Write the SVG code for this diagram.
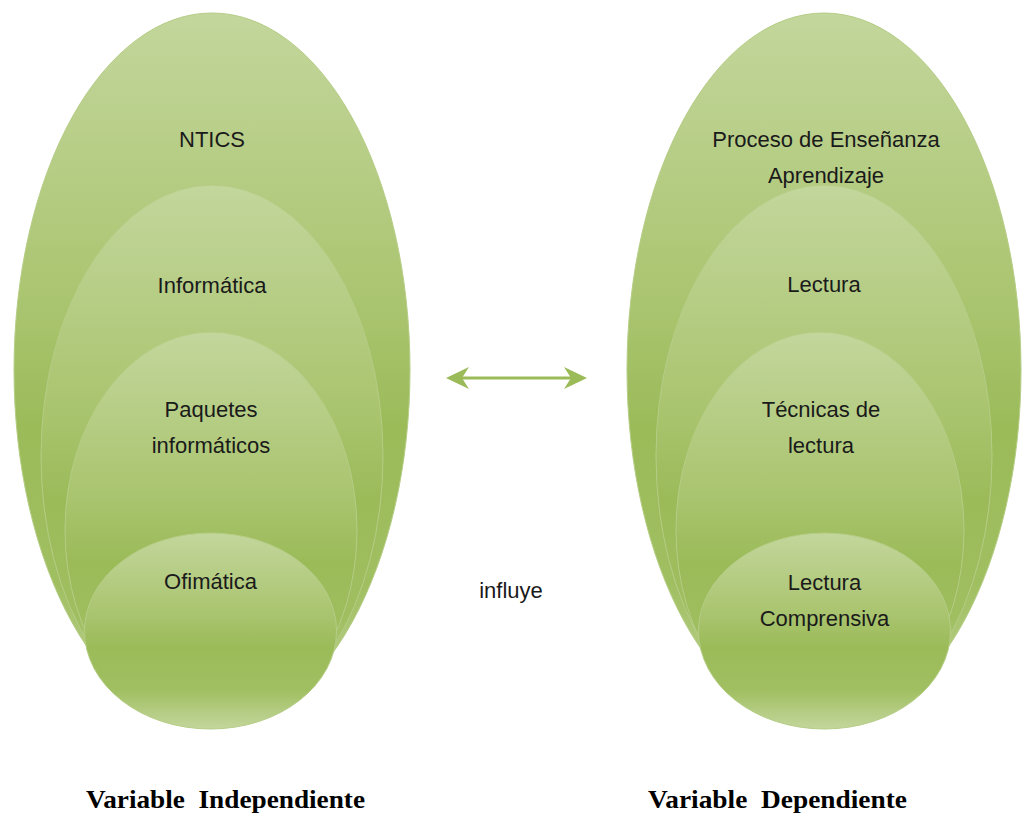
<svg xmlns="http://www.w3.org/2000/svg" width="1023" height="814" viewBox="0 0 1023 814">
  <defs>
    <linearGradient id="g" x1="0" y1="0" x2="0" y2="1">
      <stop offset="0" stop-color="#c3d69c"/>
      <stop offset="0.42" stop-color="#a9c46e"/>
      <stop offset="0.58" stop-color="#9bbb59"/>
      <stop offset="0.8" stop-color="#a0bf61"/>
      <stop offset="1" stop-color="#c3d69c"/>
    </linearGradient>
    <marker id="ah" viewBox="0 0 24 24" refX="8" refY="12" markerWidth="24" markerHeight="24" markerUnits="userSpaceOnUse" orient="auto-start-reverse">
      <path d="M0,1 L23,12 L0,23 L7,12 Z" fill="#9bbb59"/>
    </marker>
    <style>
      .el { fill: url(#g); stroke: #b5cd85; stroke-width: 1; }
      .lb { font-family: "Liberation Sans", Arial, sans-serif; font-size: 22px; fill: #1a1a1a; text-anchor: middle; }
      .ttl { font-family: "Liberation Serif", "Times New Roman", serif; font-size: 26px; font-weight: bold; fill: #000; }
    </style>
  </defs>
  <rect width="1023" height="814" fill="#ffffff"/>

  <g id="left">
    <g id="ntics"><ellipse class="el" cx="212" cy="370" rx="198" ry="357"/><text class="lb" x="212" y="147">NTICS</text></g>
    <g id="informatica"><ellipse class="el" cx="212" cy="456" rx="171" ry="271"/><text class="lb" x="212" y="293">Informática</text></g>
    <g id="paquetes"><ellipse class="el" cx="211" cy="530" rx="146" ry="198"/><text class="lb" x="211" y="417">Paquetes</text><text class="lb" x="211" y="453">informáticos</text></g>
    <g id="ofimatica"><ellipse class="el" cx="210.5" cy="631" rx="126" ry="98"/><text class="lb" x="210.5" y="589">Ofimática</text></g>
  </g>

  <g id="right">
    <g id="proceso"><ellipse class="el" cx="824" cy="370" rx="197" ry="357"/><text class="lb" x="826" y="147">Proceso de Enseñanza</text><text class="lb" x="826" y="183">Aprendizaje</text></g>
    <g id="lectura"><ellipse class="el" cx="824" cy="456" rx="168" ry="271"/><text class="lb" x="824" y="292">Lectura</text></g>
    <g id="tecnicas"><ellipse class="el" cx="820" cy="530" rx="144" ry="198"/><text class="lb" x="821" y="417">Técnicas de</text><text class="lb" x="821" y="453">lectura</text></g>
    <g id="comprensiva"><ellipse class="el" cx="824.5" cy="631" rx="126" ry="98"/><text class="lb" x="824.5" y="590">Lectura</text><text class="lb" x="824.5" y="626">Comprensiva</text></g>
  </g>

  <g id="connectors">
    <line x1="461" y1="378" x2="572" y2="378" stroke="#9bbb59" stroke-width="3" marker-start="url(#ah)" marker-end="url(#ah)"/>
  </g>

  <g id="labels">
    <text class="lb" x="511" y="598">influye</text>
    <text class="ttl" x="86" y="808" textLength="279" lengthAdjust="spacingAndGlyphs" xml:space="preserve">Variable  Independiente</text>
    <text class="ttl" x="648" y="808" textLength="259" lengthAdjust="spacingAndGlyphs" xml:space="preserve">Variable  Dependiente</text>
  </g>
</svg>
